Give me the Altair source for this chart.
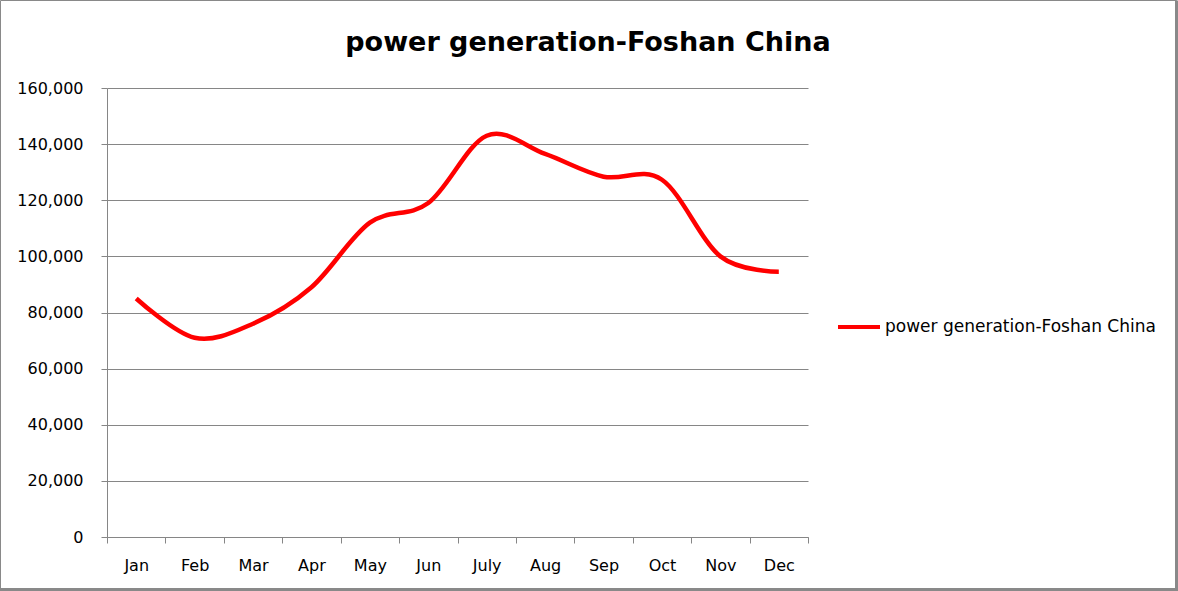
import altair as alt
import pandas as pd

months = ["Jan", "Feb", "Mar", "Apr", "May", "Jun", "July", "Aug", "Sep", "Oct", "Nov", "Dec"]
values = [85000, 71000, 76000, 89000, 112000, 119000, 143000, 136500, 128400, 127300, 100000, 94500]
series_name = "power generation-Foshan China"
chart_title = "power generation-Foshan China"
y_ticks = [0, 20000, 40000, 60000, 80000, 100000, 120000, 140000, 160000]

df = pd.DataFrame({"month": months, "value": values, "series": [series_name] * len(months)})

FONT = "DejaVu Sans"
GRID = "#868686"

base = alt.Chart(df)

line = base.mark_line(strokeWidth=4.5, interpolate="cardinal", clip=False).encode(
    x=alt.X(
        "month:N",
        sort=months,
        title=None,
        scale=alt.Scale(paddingInner=0, paddingOuter=0),
        axis=alt.Axis(
            labelAngle=0,
            tickBand="extent",
            tickSize=6,
            tickColor=GRID,
            domainColor=GRID,
            labelFont=FONT,
            labelFontSize=16,
            labelColor="#000000",
            labelPadding=14,
            grid=False,
        ),
    ),
    y=alt.Y(
        "value:Q",
        title=None,
        scale=alt.Scale(domain=[0, 160000], nice=False),
        axis=alt.Axis(
            values=y_ticks,
            format=",.0f",
            tickSize=6,
            tickColor=GRID,
            domainColor=GRID,
            gridColor=GRID,
            gridWidth=1,
            labelFont=FONT,
            labelFontSize=16,
            labelColor="#000000",
            labelPadding=18,
        ),
    ),
    color=alt.Color(
        "series:N",
        scale=alt.Scale(domain=[series_name], range=["#ff0000"]),
        legend=alt.Legend(
            title=None,
            orient="none",
            legendX=729,
            legendY=216,
            symbolType="stroke",
            symbolSize=1764,
            symbolStrokeWidth=4,
            labelFont=FONT,
            labelFontSize=17,
            labelColor="#000000",
            labelOffset=3,
            labelLimit=400,
        ),
    ),
)

frame_data = alt.Data(values=[{"title": chart_title}])
frame = alt.Chart(frame_data).mark_rect(fill=None, stroke="#898989", strokeWidth=1, clip=False).encode(
    x=alt.value(-106.5), x2=alt.value(1069.5), y=alt.value(-87.5), y2=alt.value(501.5)
)
right_edge = alt.Chart(frame_data).mark_rule(stroke="#898989", strokeWidth=3, clip=False).encode(
    x=alt.value(1069.5), y=alt.value(-87.5), y2=alt.value(503)
)
bottom_edge = alt.Chart(frame_data).mark_rule(stroke="#898989", strokeWidth=3, clip=False).encode(
    x=alt.value(-107), x2=alt.value(1071), y=alt.value(501.5)
)
title = alt.Chart(frame_data).mark_text(
    font=FONT, fontSize=27, fontWeight="bold", color="#000000",
    align="center", baseline="middle", clip=False,
).encode(
    text="title:N", x=alt.value(481), y=alt.value(-45)
)

chart = alt.layer(frame, right_edge, bottom_edge, title, line).properties(
    width=701,
    height=449,
    padding={"left": 107, "top": 88, "right": 370, "bottom": 54},
    autosize=alt.AutoSizeParams(type="none"),
    background="white",
).configure_view(stroke=None)

chart.save("out.html", embed_options={"renderer": "svg", "actions": False})
